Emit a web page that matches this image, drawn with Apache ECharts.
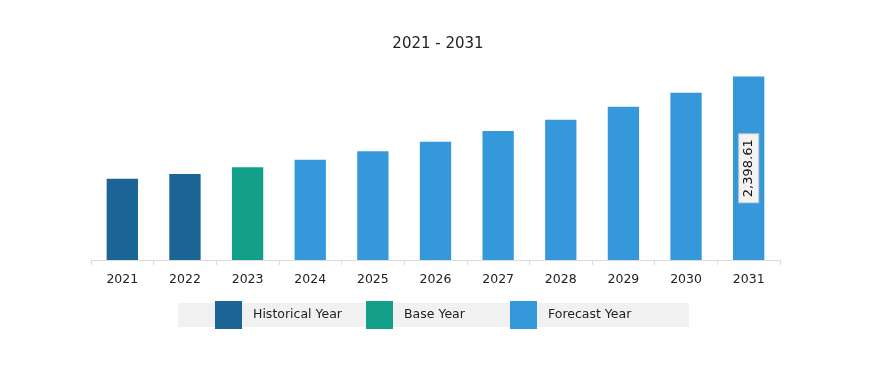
<!DOCTYPE html>
<html><head><meta charset="utf-8">
<script src="https://cdn.jsdelivr.net/npm/echarts@6/dist/echarts.min.js"></script>
<style>html,body{margin:0;padding:0;background:#fff}#c{width:885px;height:369px}</style>
</head><body><div id="c"></div>
<script>
const years = ['2021','2022','2023','2024','2025','2026','2027','2028','2029','2030','2031'];
const values = [1060, 1125, 1213, 1309, 1422, 1544, 1684, 1832, 2002, 2185, 2398.61];
const yearTypes = ['Historical Year','Historical Year','Base Year','Forecast Year','Forecast Year','Forecast Year','Forecast Year','Forecast Year','Forecast Year','Forecast Year','Forecast Year'];
const legendNames = ['Historical Year','Base Year','Forecast Year'];
const colors = {'Historical Year':'#1a6496','Base Year':'#13a08b','Forecast Year':'#3598db'};
const labelledYear = '2031';
const FONT = '"DejaVu Sans", sans-serif';

const chart = echarts.init(document.getElementById('c'));
const series = legendNames.map(name => ({
  name: name,
  type: 'bar',
  stack: 'all',
  barWidth: '50%',
  itemStyle: {color: colors[name]},
  data: years.map((y, i) => yearTypes[i] === name ? {
    value: values[i],
    label: y === labelledYear ? {
      show: true, position: 'inside', rotate: 90,
      formatter: p => p.value.toLocaleString('en-US', {minimumFractionDigits: 2, maximumFractionDigits: 2}),
      color: '#111', fontSize: 13, fontFamily: FONT,
      backgroundColor: '#f2f2f2', borderColor: '#c8c8c8', borderWidth: 1, padding: [3, 5, 3, 5]
    } : {show: false}
  } : '-')
}));
const legendLefts = [215, 366, 510];
chart.setOption({
  animation: false,
  title: {text: '2021 - 2031', left: 433, textAlign: 'center', top: 32,
    textStyle: {fontSize: 15, fontWeight: 'normal', color: '#222', fontFamily: FONT}},
  graphic: [{type: 'rect', z: -1, shape: {x: 178, y: 303, width: 511, height: 24}, style: {fill: '#f1f1f1'}}],
  legend: legendNames.map((n, i) => ({
    data: [n], left: legendLefts[i], top: 301, padding: 0,
    itemWidth: 27, itemHeight: 28, itemGap: 0,
    icon: 'rect',
    textStyle: {fontSize: 12.5, color: '#222', fontFamily: FONT, padding: [0, 0, 0, 6]}
  })),
  grid: {left: 91, right: 105, top: 61, bottom: 109},
  xAxis: {
    type: 'category', data: years,
    axisLine: {lineStyle: {color: '#dcdcdc'}},
    axisTick: {show: true, length: 5, lineStyle: {color: '#dcdcdc'}},
    axisLabel: {color: '#222', fontSize: 12.5, fontFamily: FONT, margin: 13}
  },
  yAxis: {type: 'value', min: 0, max: 2600, show: false, splitLine: {show: false}},
  series: series
});
</script></body></html>
